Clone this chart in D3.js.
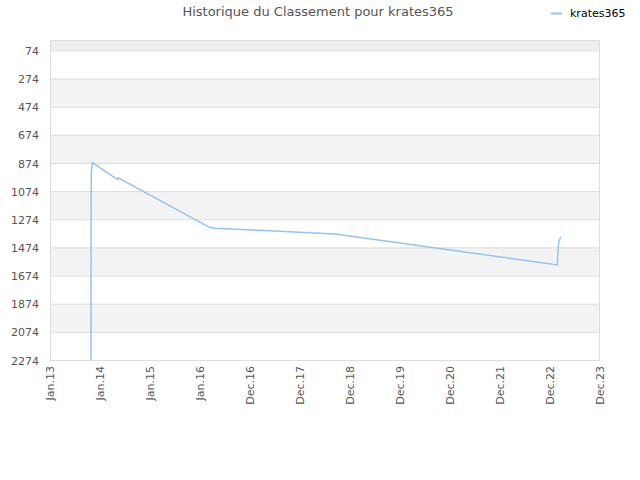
<!DOCTYPE html>
<html><head><meta charset="utf-8">
<script src="https://cdn.jsdelivr.net/npm/d3@7"></script>
<style>body{margin:0;background:#fff;} svg{display:block;font-family:"DejaVu Sans",sans-serif;}</style>
</head><body><svg id="c" width="640" height="480"></svg>
<script>
const title = "Historique du Classement pour krates365";
const seriesName = "krates365";
const dates = ["2013-10-27","2013-10-28","2013-10-29","2013-10-30","2013-11-06","2014-05-10","2014-05-14","2016-03-14","2016-04-20","2018-09-12","2023-02-22","2023-02-25","2023-03-05","2023-03-19"];
const ranks = [2274,1227,980,942,871,992,980,1333,1338,1378,1598,1513,1428,1400];
const yTicks = [74,274,474,674,874,1074,1274,1474,1674,1874,2074,2274];
const xTickDates = ["2013-01-01","2014-01-01","2015-01-01","2016-01-01","2016-12-31","2017-12-31","2018-12-31","2019-12-31","2020-12-30","2021-12-30","2022-12-30","2023-12-30"];
const xTickLabels = ["Jan.13","Jan.14","Jan.15","Jan.16","Dec.16","Dec.17","Dec.18","Dec.19","Dec.20","Dec.21","Dec.22","Dec.23"];

const svg = d3.select("#c");
const L=50,R=600,T=40,B=360;
const parse = d3.utcParse("%Y-%m-%d");
const x = d3.scaleUtc().domain([parse(xTickDates[0]), parse(xTickDates[xTickDates.length-1])]).range([L,R]);
const y = d3.scaleLinear().domain([0,2274]).range([T,B]);

// bands
const bandEdges = [0].concat(yTicks);
for(let i=0;i<bandEdges.length-1;i++){
  if(i%2===0){
    svg.append("rect").attr("x",L).attr("width",R-L)
      .attr("y",y(bandEdges[i])).attr("height",y(bandEdges[i+1])-y(bandEdges[i]))
      .attr("fill", i===0 ? "#eeeeee" : "#f3f3f3");
  }
}
// gridlines
svg.append("g").selectAll("line").data(yTicks).join("line")
  .attr("x1",L).attr("x2",R).attr("y1",d=>y(d)+0.5).attr("y2",d=>y(d)+0.5)
  .attr("stroke","#dddddd").attr("stroke-width",1);
// border
svg.append("rect").attr("x",L+0.5).attr("y",T+0.5).attr("width",R-L-1).attr("height",B-T)
  .attr("fill","none").attr("stroke","#dddddd");

// y axis
const yAxis = d3.axisLeft(y).tickValues(yTicks).tickSize(0).tickPadding(11).tickFormat(d=>d);
const gy = svg.append("g").attr("transform",`translate(${L},0.5)`).call(yAxis);
gy.select(".domain").remove();
gy.selectAll("text").attr("fill","#555").style("font-size","11px").style("font-family","DejaVu Sans");

// x axis
const xAxis = d3.axisBottom(x).tickValues(xTickDates.map(parse)).tickSize(0)
  .tickFormat((d,i)=>xTickLabels[i]);
const gx = svg.append("g").attr("transform",`translate(0,${B})`).call(xAxis);
gx.select(".domain").remove();
gx.selectAll("text").attr("fill","#555").style("font-size","11px").style("font-family","DejaVu Sans")
  .attr("text-anchor","end").attr("dy","0.35em").attr("y",0)
  .attr("transform","translate(0,6) rotate(-90)");

// line
const data = dates.map((d,i)=>({d:parse(d), v:ranks[i]}));
svg.append("path").datum(data)
  .attr("fill","none").attr("stroke","#90c4f4").attr("stroke-width",1.5)
  .attr("d", d3.line().x(d=>x(d.d)).y(d=>y(d.v)));

// title
svg.append("text").attr("x",318).attr("y",16).attr("text-anchor","middle")
  .attr("fill","#555").style("font-size","13px").text(title);
// legend
svg.append("line").attr("x1",551).attr("x2",562).attr("y1",13.5).attr("y2",13.5)
  .attr("stroke","#90c4f4").attr("stroke-width",2);
svg.append("text").attr("x",570).attr("y",17).attr("fill","#000").style("font-size","11px").text(seriesName);
</script></body></html>
